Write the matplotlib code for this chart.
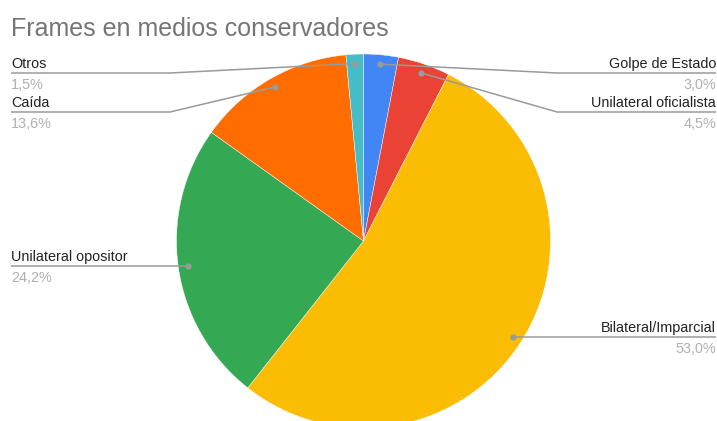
import numpy as np
import matplotlib.pyplot as plt

# Data
labels = ['Golpe de Estado', 'Unilateral oficialista', 'Bilateral/Imparcial',
          'Unilateral opositor', 'Caída', 'Otros']
values = [3.0, 4.5, 53.0, 24.2, 13.6, 1.5]
pct_text = ['3,0%', '4,5%', '53,0%', '24,2%', '13,6%', '1,5%']
colors = ['#4285F4', '#EA4335', '#FBBC04', '#34A853', '#FF6D01', '#46BDC6']

# Layout (pixel coords, y measured from top)
W, H = 717, 421
cx, cy, r = 363.5, 241, 187
# side, line y, knee x (None = straight)
label_layout = {
    'Golpe de Estado': ('right', 73, 557),
    'Unilateral oficialista': ('right', 112, 557),
    'Bilateral/Imparcial': ('right', 337, None),
    'Unilateral opositor': ('left', 266, None),
    'Caída': ('left', 112, 170),
    'Otros': ('left', 73, 170),
}

plt.rcParams['font.family'] = ['Liberation Sans', 'DejaVu Sans']
fig = plt.figure(figsize=(W / 100, H / 100), dpi=100)
ax = fig.add_axes([0, 0, 1, 1])

wedges, _ = ax.pie(values, colors=colors, startangle=90, counterclock=False,
                   center=(cx, H - cy), radius=r,
                   wedgeprops=dict(linewidth=0.3, edgecolor='white'))
ax.set_xlim(0, W)
ax.set_ylim(0, H)
ax.set_aspect('equal')
ax.axis('off')

line_col = '#9a9a9a'
for w, lab, pct in zip(wedges, labels, pct_text):
    mid = np.deg2rad((w.theta1 + w.theta2) / 2)
    dx = cx + 0.95 * r * np.cos(mid)
    dy = (H - cy) + 0.95 * r * np.sin(mid)
    side, ly, knee = label_layout[lab]
    ly = H - ly
    if side == 'right':
        xs = [dx, knee, W - 1] if knee else [dx, W - 1]
        tx, ha = W - 1, 'right'
    else:
        xs = [dx, knee, 11] if knee else [dx, 11]
        tx, ha = 11, 'left'
    ys = [dy, ly, ly] if knee else [ly, ly]
    ax.plot(xs, ys, color=line_col, lw=1.1, solid_capstyle='butt')
    ax.plot(dx, dy, 'o', color=line_col, ms=4.5, mec='none')
    ax.text(tx, ly + 2, lab, ha=ha, va='bottom', fontsize=10.4, color='#222222')
    ax.text(tx, ly - 5, pct, ha=ha, va='top', fontsize=10.4, color='#b0b0b0')

fig.text(11 / W, 1 - 36 / H, 'Frames en medios conservadores', fontsize=18,
         color='#757575', ha='left', va='baseline')

fig.savefig('out.png', dpi=100)
